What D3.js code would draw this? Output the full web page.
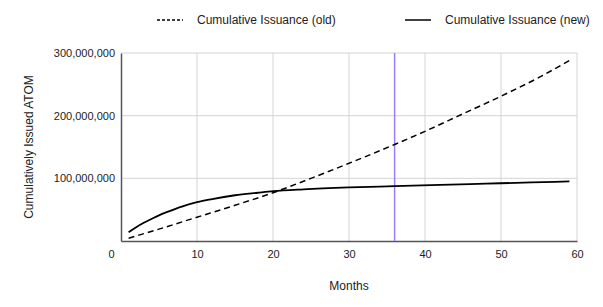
<!DOCTYPE html>
<html>
<head>
<meta charset="utf-8">
<script src="https://cdn.jsdelivr.net/npm/d3@7"></script>
<style>
  body { margin: 0; background: #fff; }
  text { font-family: "Liberation Sans", Arial, sans-serif; fill: #222; }
</style>
</head>
<body>
<div class="svg-wrapper"></div>
<script>
// months and cumulative issuance (millions of ATOM)
var months_old = [1, 5, 10, 15, 20, 25, 30, 36, 40, 45, 50, 55, 59];
var issued_old = [4.5, 19, 38, 57, 77, 100, 124, 154, 175, 203, 231, 261, 288];
var months_new = [1, 2, 3, 4, 5, 6, 8, 10, 12, 15, 18, 20, 24, 30, 36, 42, 48, 54, 59];
var issued_new = [14, 22, 29, 35, 41, 46, 55, 62, 67, 73, 77, 79.5, 82.5, 85.5, 87.5, 89.5, 91.5, 93.5, 95];
var x_ticks = [0, 10, 20, 30, 40, 50, 60];
var y_ticks = [100e6, 200e6, 300e6];
var marker_month = 36;
var legend_labels = ["Cumulative Issuance (old)", "Cumulative Issuance (new)"];

var W = 603, H = 307,
    margin = {top: 53, right: 26, bottom: 66, left: 121},
    width  = W - margin.left - margin.right,
    height = H - margin.top - margin.bottom;

var svg = d3.select(".svg-wrapper").append("svg")
  .attr("width", W)
  .attr("height", H);

var g = svg.append("g")
  .attr("transform", "translate(" + margin.left + "," + margin.top + ")");

var x = d3.scaleLinear().domain([0, 60]).range([0, width]),
    y = d3.scaleLinear().domain([0, 300e6]).range([height, 0]);

// grid
g.selectAll(".vgrid").data(x_ticks.slice(1)).enter().append("line")
  .attr("x1", d => x(d)).attr("x2", d => x(d))
  .attr("y1", 0).attr("y2", height)
  .attr("stroke", "#d4d4d4").attr("stroke-width", 1);
g.selectAll(".hgrid").data(y_ticks).enter().append("line")
  .attr("x1", 0).attr("x2", width)
  .attr("y1", d => y(d)).attr("y2", d => y(d))
  .attr("stroke", "#d4d4d4").attr("stroke-width", 1);

// axes
var xAxis = d3.axisBottom(x).tickValues(x_ticks).tickSize(0).tickPadding(9),
    yAxis = d3.axisLeft(y).tickValues(y_ticks).tickSize(0).tickPadding(6)
      .tickFormat(d3.format(","));

var gx = g.append("g").attr("transform", "translate(0," + height + ")").call(xAxis);
var gy = g.append("g").call(yAxis);
[gx, gy].forEach(function(a) {
  a.select(".domain").attr("stroke", "#555").attr("stroke-width", 1.5);
  a.selectAll("text").style("font-size", "11px").attr("fill", "#333");
});
gx.selectAll(".tick").filter(d => d == 0).select("text").attr("dx", -10);
gy.selectAll(".tick text").attr("dy", "0.32em");

// marker
g.append("line")
  .attr("x1", x(marker_month)).attr("x2", x(marker_month))
  .attr("y1", 0).attr("y2", height)
  .attr("stroke", "#9b7bff").attr("stroke-width", 1.5);

var line = d3.line()
  .x(d => x(d[0]))
  .y(d => y(d[1] * 1e6))
  .curve(d3.curveMonotoneX);

g.append("path")
  .datum(d3.zip(months_old, issued_old))
  .attr("d", line)
  .attr("fill", "none").attr("stroke", "#000")
  .attr("stroke-width", 1.5).attr("stroke-dasharray", "6,4");

g.append("path")
  .datum(d3.zip(months_new, issued_new))
  .attr("d", line)
  .attr("fill", "none").attr("stroke", "#000")
  .attr("stroke-width", 1.8);

// titles
svg.append("text")
  .attr("transform", "translate(33," + (margin.top + height / 2) + ") rotate(-90)")
  .attr("text-anchor", "middle").style("font-size", "12px")
  .text("Cumulatively Issued ATOM");
svg.append("text")
  .attr("x", margin.left + width / 2).attr("y", 290)
  .attr("text-anchor", "middle").style("font-size", "12px")
  .text("Months");

// legend
var legend = svg.append("g");
var lx = [157, 405];
legend_labels.forEach(function(d, i) {
  legend.append("line")
    .attr("x1", lx[i]).attr("x2", lx[i] + 26)
    .attr("y1", 20).attr("y2", 20)
    .attr("stroke", "#000").attr("stroke-width", 1.5)
    .attr("stroke-dasharray", i == 0 ? "3,2" : null);
  legend.append("text")
    .attr("x", lx[i] + 40).attr("y", 24)
    .style("font-size", "12px")
    .text(d);
});
</script>
</body>
</html>
